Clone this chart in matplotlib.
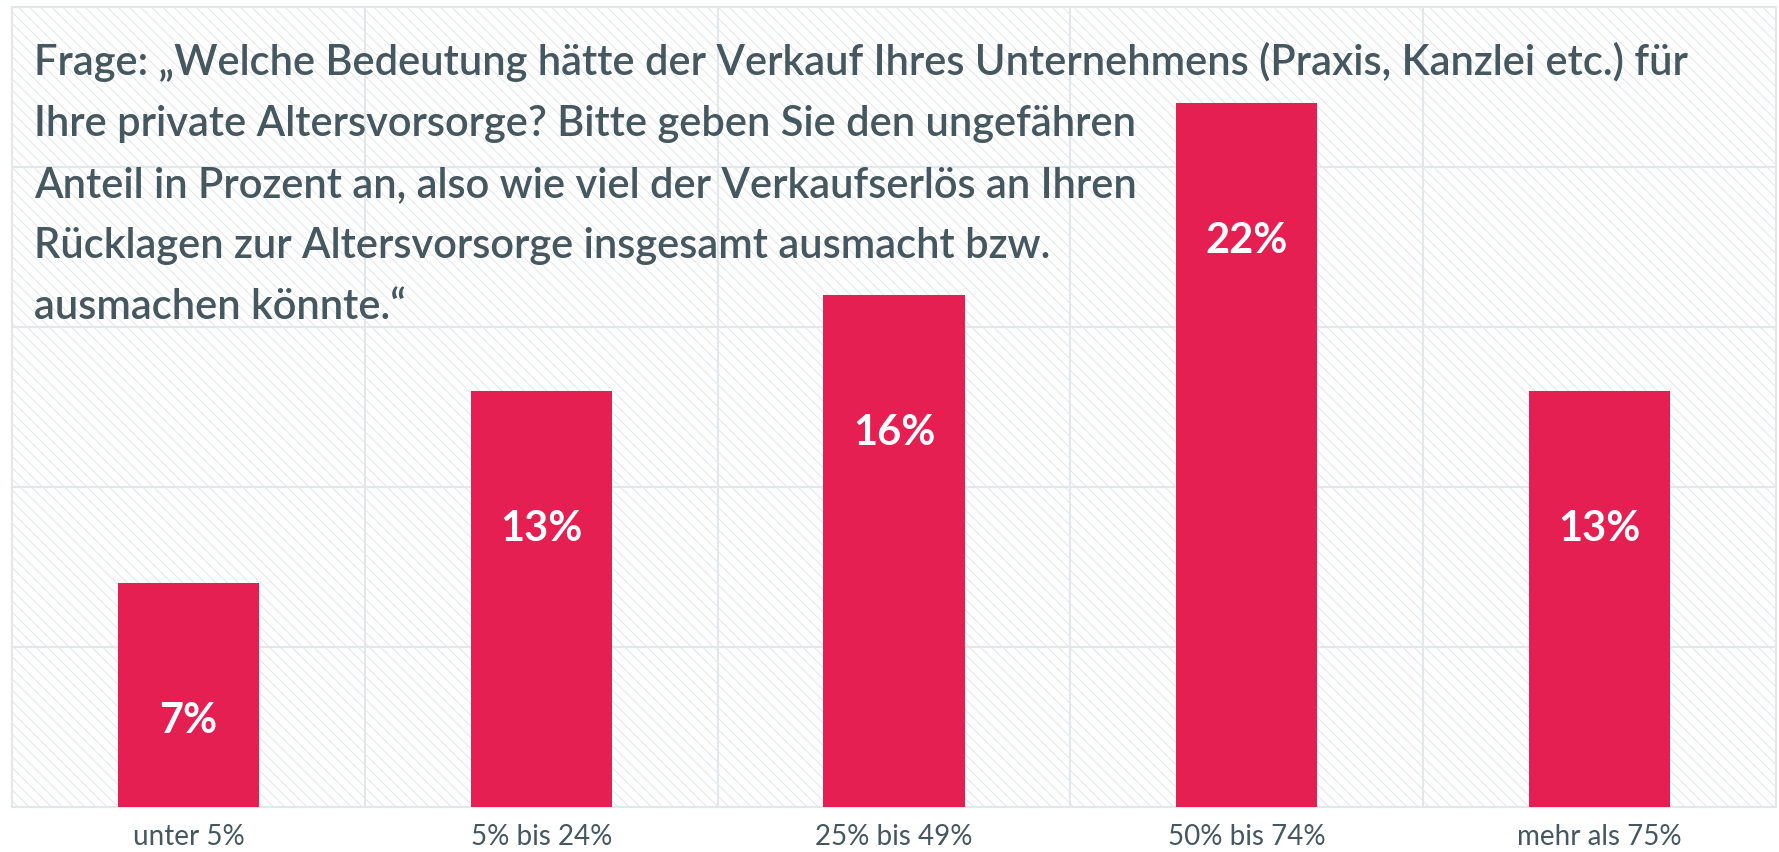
import matplotlib
matplotlib.use("Agg")
import matplotlib.pyplot as plt
from matplotlib.patches import Rectangle

CATEGORIES = ["unter 5%", "5% bis 24%", "25% bis 49%", "50% bis 74%", "mehr als 75%"]
VALUES = [7, 13, 16, 22, 13]
VALUE_LABELS = ["7%", "13%", "16%", "22%", "13%"]
TITLE_LINES = [
    "Frage: „Welche Bedeutung hätte der Verkauf Ihres Unternehmens (Praxis, Kanzlei etc.) für",
    "Ihre private Altersvorsorge? Bitte geben Sie den ungefähren",
    "Anteil in Prozent an, also wie viel der Verkaufserlös an Ihren",
    "Rücklagen zur Altersvorsorge insgesamt ausmacht bzw.",
    "ausmachen könnte.“",
]

BAR_COLOR = "#e51f52"
TEXT_COLOR = "#45575f"
GRID_COLOR = "#e3e7ea"
HATCH_COLOR = "#e2e6e9"

W, H, DPI = 1779, 852, 100

plt.rcParams["font.family"] = ["Lato", "DejaVu Sans"]
plt.rcParams["hatch.linewidth"] = 0.7

fig = plt.figure(figsize=(W / DPI, H / DPI), dpi=DPI)
ax = fig.add_axes([12 / W, 1 - 807 / H, 1764 / W, 800 / H])

# hatched background
bg = Rectangle((0, 0), 1, 1, transform=ax.transAxes, facecolor="white",
               edgecolor=HATCH_COLOR, hatch="\\\\\\", linewidth=0, zorder=0)
ax.add_patch(bg)

x = list(range(len(CATEGORIES)))
ax.bar(x, VALUES, width=0.4, color=BAR_COLOR, zorder=3)

ax.set_xlim(-0.5, len(CATEGORIES) - 0.5)
ax.set_ylim(0, 25)

for y in [5, 10, 15, 20]:
    ax.axhline(y, color=GRID_COLOR, lw=1.5, zorder=1)
for xv in [0.5, 1.5, 2.5, 3.5]:
    ax.axvline(xv, color=GRID_COLOR, lw=1.5, zorder=1)

for s in ax.spines.values():
    s.set_color(GRID_COLOR)
    s.set_linewidth(1.5)

ax.set_yticks([])
ax.set_xticks(x)
ax.set_xticklabels(CATEGORIES, fontsize=20, color=TEXT_COLOR)
ax.tick_params(axis="x", length=0, pad=12)

for xi, v, lab in zip(x, VALUES, VALUE_LABELS):
    ax.annotate(lab, (xi, v), xytext=(0, -138), textcoords="offset pixels",
                ha="center", va="center", fontsize=30, fontweight="bold",
                color="white", zorder=4)

for i, line in enumerate(TITLE_LINES):
    fig.text(34 / W, 1 - (75 + 61 * i) / H, line, ha="left", va="baseline",
             fontsize=30, fontweight="semibold", color=TEXT_COLOR, zorder=5)

fig.savefig("out.png", dpi=DPI)
